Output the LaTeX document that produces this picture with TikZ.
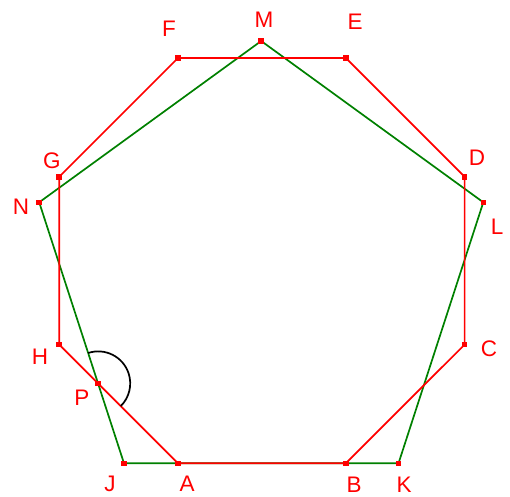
\documentclass[tikz,border=0pt]{standalone}
\usepackage{fontspec}
\setmainfont{Liberation Sans}
\usetikzlibrary{calc}
\begin{document}
\begin{tikzpicture}[x=1pt,y=-1pt,
  oct/.style={draw={rgb,255:red,255;green,0;blue,0},line width=1.7pt},
  pent/.style={draw={rgb,255:red,0;green,128;blue,0},line width=1.7pt},
  lbl/.style={text={rgb,255:red,255;green,0;blue,0},font=\fontsize{22.5}{22.5}\selectfont,inner sep=0pt},
  pt/.style={fill={rgb,255:red,255;green,0;blue,0},minimum size=5.5pt,inner sep=0pt,draw=none}]
\useasboundingbox (0,0) rectangle (510,496);
% octagon
\coordinate (A) at (178,463.3);
\coordinate (B) at (345.8,463.3);
\coordinate (C) at (464.6,344.6);
\coordinate (D) at (464.6,176.8);
\coordinate (E) at (345.8,58);
\coordinate (F) at (178,58);
\coordinate (G) at (59.2,176.8);
\coordinate (H) at (59.2,344.6);
% pentagon
\coordinate (J) at (124,463.3);
\coordinate (K) at (398.5,463.3);
\coordinate (L) at (483.3,202.3);
\coordinate (M) at (261.2,41);
\coordinate (N) at (39.2,202.3);
\coordinate (P) at (intersection of N--J and H--A);
\draw[pent] (J)--(K)--(L)--(M)--(N)--cycle;
\draw[oct] (A)--(B)--(C)--(D)--(E)--(F)--(G)--(H)--cycle;
% angle arc
\draw[line width=1.7pt] ($(P)!32pt!(N)$) arc[start angle=108.3,end angle=-45,radius=32pt];
\foreach \p in {A,B,C,D,E,F,G,H,J,K,L,M,N,P} \node[pt] (m\p) at (\p) {};
\node[lbl] (lA) at (187,484) {A};
\node[lbl] (lB) at (354,485) {B};
\node[lbl] (lC) at (489,349) {C};
\node[lbl] (lD) at (477,158) {D};
\node[lbl] (lE) at (355,22) {E};
\node[lbl] (lF) at (169,29) {F};
\node[lbl] (lG) at (52,161) {G};
\node[lbl] (lH) at (40,357) {H};
\node[lbl] (lJ) at (110,484) {J};
\node[lbl] (lK) at (404,485) {K};
\node[lbl] (lL) at (497,227) {L};
\node[lbl] (lM) at (264,20) {M};
\node[lbl] (lN) at (21,207) {N};
\node[lbl] (lP) at (82,398) {P};
\end{tikzpicture}
\end{document}
